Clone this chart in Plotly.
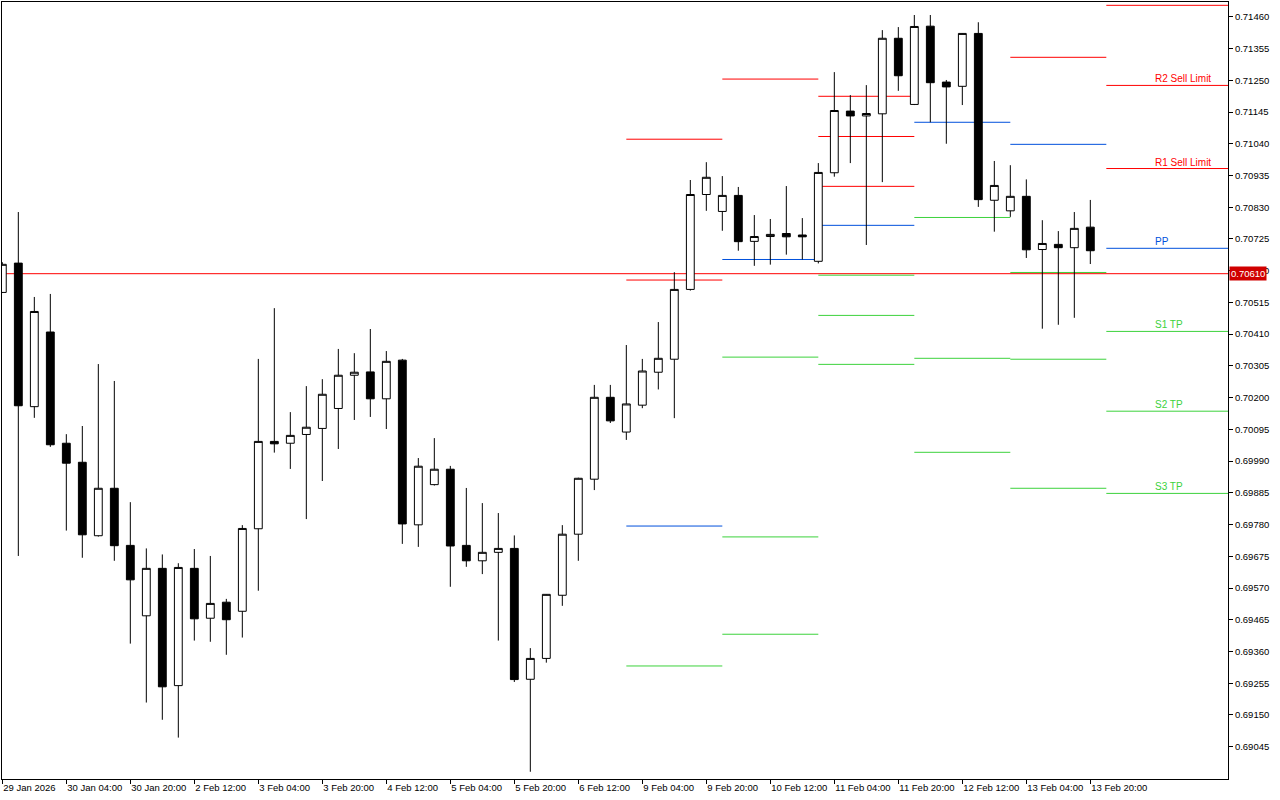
import numpy as np
import pandas as pd
import plotly.graph_objects as go

# ---------------- data (AUDUSD-like, H4 bars) ----------------
tick_labels = ["29 Jan 2026", "30 Jan 04:00", "30 Jan 20:00", "2 Feb 12:00", "3 Feb 04:00",
               "3 Feb 20:00", "4 Feb 12:00", "5 Feb 04:00", "5 Feb 20:00", "6 Feb 12:00",
               "9 Feb 04:00", "9 Feb 20:00", "10 Feb 12:00", "11 Feb 04:00", "11 Feb 20:00",
               "12 Feb 12:00", "13 Feb 04:00", "13 Feb 20:00"]

opens = [0.70548, 0.70645, 0.70170, 0.70417, 0.70049, 0.69986, 0.69743, 0.69900, 0.69711, 0.69478,
         0.69635, 0.69247, 0.69635, 0.69470, 0.69523, 0.69493, 0.69766, 0.70055, 0.70049, 0.70078,
         0.70098, 0.70164, 0.70274, 0.70285, 0.70196, 0.70324, 0.69779, 0.69912, 0.69963, 0.69711,
         0.69660, 0.69688, 0.69701, 0.69268, 0.69337, 0.69546, 0.69748, 0.69930, 0.70201, 0.70086,
         0.70175, 0.70284, 0.70327, 0.70558, 0.70872, 0.70816, 0.70869, 0.70717, 0.70733, 0.70743,
         0.70738, 0.70651, 0.70944, 0.71148, 0.71132, 0.71139, 0.71389, 0.71170, 0.71429, 0.71244,
         0.71230, 0.71405, 0.70853, 0.70818, 0.70866, 0.70690, 0.70707, 0.70696, 0.70764]
highs = [0.70648, 0.70814, 0.70533, 0.70543, 0.70079, 0.70106, 0.70311, 0.70255, 0.69854, 0.69701,
         0.69681, 0.69652, 0.69699, 0.69676, 0.69534, 0.69778, 0.70328, 0.70496, 0.70152, 0.70238,
         0.70261, 0.70361, 0.70347, 0.70427, 0.70354, 0.70328, 0.70000, 0.70066, 0.69974, 0.69901,
         0.69851, 0.69818, 0.69744, 0.69371, 0.69550, 0.69778, 0.69935, 0.70242, 0.70242, 0.70374,
         0.70328, 0.70450, 0.70615, 0.70920, 0.70979, 0.70933, 0.70897, 0.70804, 0.70791, 0.70900,
         0.70794, 0.70976, 0.71277, 0.71201, 0.71234, 0.71416, 0.71426, 0.71466, 0.71466, 0.71251,
         0.71406, 0.71442, 0.70983, 0.70969, 0.70922, 0.70787, 0.70751, 0.70814, 0.70854]
lows = [0.70546, 0.69676, 0.70133, 0.70037, 0.69760, 0.69670, 0.69740, 0.69660, 0.69386, 0.69191,
        0.69134, 0.69075, 0.69396, 0.69392, 0.69349, 0.69406, 0.69561, 0.70018, 0.69964, 0.69798,
        0.69924, 0.70030, 0.70126, 0.70136, 0.70096, 0.69716, 0.69706, 0.69909, 0.69574, 0.69640,
        0.69616, 0.69396, 0.69259, 0.68962, 0.69323, 0.69511, 0.69660, 0.69894, 0.70116, 0.70060,
        0.70165, 0.70227, 0.70132, 0.70554, 0.70818, 0.70752, 0.70686, 0.70636, 0.70640, 0.70673,
        0.70657, 0.70644, 0.70931, 0.70976, 0.70705, 0.70913, 0.71215, 0.71168, 0.71111, 0.71040,
        0.71168, 0.70831, 0.70749, 0.70798, 0.70662, 0.70428, 0.70441, 0.70464, 0.70642]
closes = [0.70641, 0.70173, 0.70485, 0.70044, 0.69983, 0.69746, 0.69900, 0.69710, 0.69597, 0.69635,
          0.69243, 0.69638, 0.69468, 0.69519, 0.69465, 0.69767, 0.70055, 0.70047, 0.70075, 0.70102,
          0.70211, 0.70274, 0.70284, 0.70196, 0.70320, 0.69782, 0.69973, 0.69963, 0.69709, 0.69660,
          0.69688, 0.69701, 0.69267, 0.69337, 0.69549, 0.69748, 0.69933, 0.70201, 0.70123, 0.70179,
          0.70288, 0.70330, 0.70558, 0.70872, 0.70929, 0.70869, 0.70716, 0.70733, 0.70740, 0.70732,
          0.70732, 0.70945, 0.71150, 0.71132, 0.71140, 0.71389, 0.71265, 0.71428, 0.71242, 0.71228,
          0.71405, 0.70855, 0.70902, 0.70866, 0.70689, 0.70710, 0.70696, 0.70760, 0.70686]

bid_price = 0.70610

# daily pivot levels (one entry per day; None = off-chart)
pivot_days = ["2026-02-09", "2026-02-10", "2026-02-11", "2026-02-12", "2026-02-13", "2026-02-16"]
r3 = [None, None, 0.71197, None, None, 0.71498]
r2 = [0.71055, None, 0.71064, None, None, 0.71233]
r1 = [0.70589, 0.71254, 0.70899, None, 0.71326, 0.70958]
pp = [0.69775, 0.70657, 0.70770, 0.71111, 0.71038, 0.70694]
s1 = [0.69312, 0.70334, 0.70605, 0.70796, 0.70614, 0.70419]
s2 = [None, 0.69739, 0.70472, 0.70330, 0.70327, 0.70155]
s3 = [None, 0.69417, 0.70310, 0.70019, 0.69900, 0.69883]
level_names = ["R3", "R2 Sell Limit", "R1 Sell Limit", "PP", "S1 TP", "S2 TP", "S3 TP"]

y_tick_values = [0.69045, 0.69150, 0.69255, 0.69360, 0.69465, 0.69570, 0.69675, 0.69780,
                 0.69885, 0.69990, 0.70095, 0.70200, 0.70305, 0.70410, 0.70515, 0.70620,
                 0.70725, 0.70830, 0.70935, 0.71040, 0.71145, 0.71250, 0.71355, 0.71460]
y_tick_labels = ["0.69045", "0.69150", "0.69255", "0.69360", "0.69465", "0.69570", "0.69675",
                 "0.69780", "0.69885", "0.69990", "0.70095", "0.70200", "0.70305", "0.70410",
                 "0.70515", "0.70620", "0.70725", "0.70830", "0.70935", "0.71040", "0.71145",
                 "0.71250", "0.71355", "0.71460"]

# ---------------- build ----------------
RED, BLUE, GREEN = "#ff0000", "#0050dc", "#3cd23c"
level_colors = [RED, RED, RED, BLUE, GREEN, GREEN, GREEN]
levels = [r3, r2, r1, pp, s1, s2, s3]

times = pd.date_range("2026-01-29 12:00", "2026-02-13 20:00", freq="4h")
times = times[times.dayofweek < 5]
n = len(times)
xi = np.arange(n)

x_min = -0.02
x_max = x_min + 1226 / 16.0
y_min, y_max = 0.68938, 0.71509

starts = [int(np.searchsorted(times, pd.Timestamp(d))) for d in pivot_days]
ends = starts[1:] + [x_max + 2]

FONT = "Liberation Sans, Arial, sans-serif"

fig = go.Figure()
fig.add_trace(go.Candlestick(
    x=xi, open=opens, high=highs, low=lows, close=closes,
    increasing=dict(line=dict(color="black", width=1), fillcolor="white"),
    decreasing=dict(line=dict(color="black", width=1), fillcolor="black"),
    hoverinfo="skip", showlegend=False,
))

shapes = []
shapes.append(dict(type="line", xref="paper", x0=0, x1=1, yref="y", y0=bid_price, y1=bid_price,
                   line=dict(color="#ff0000", width=1), layer="below"))
for d in range(len(pivot_days)):
    for lv, col in zip(levels, level_colors):
        v = lv[d]
        if v is None:
            continue
        shapes.append(dict(type="line", xref="x", yref="y", x0=starts[d], x1=ends[d], y0=v, y1=v,
                           line=dict(color=col, width=1), layer="below"))

annotations = []
last = len(pivot_days) - 1
for name, lv, col in zip(level_names, levels, level_colors):
    v = lv[last]
    if v is None or name == "R3":
        continue
    annotations.append(dict(x=starts[last] + 3, y=v, xref="x", yref="y", text=name,
                            showarrow=False, xanchor="left", yanchor="bottom", yshift=0,
                            font=dict(family=FONT, size=10, color=col), borderpad=0))
annotations.append(dict(x=1, y=bid_price, xref="paper", yref="y", text="0.70610", showarrow=False,
                        xanchor="left", yanchor="middle", xshift=1,
                        font=dict(family=FONT, size=9.5, color="white"),
                        bgcolor="#d00000", borderpad=1))

fig.update_layout(
    width=1280, height=800,
    margin=dict(l=2, r=52, t=2, b=21, autoexpand=False),
    paper_bgcolor="white", plot_bgcolor="white",
    shapes=shapes, annotations=annotations,
    font=dict(family=FONT, size=9.5, color="black"),
    showlegend=False,
)
fig.update_xaxes(
    range=[x_min, x_max], rangeslider=dict(visible=False), automargin=False,
    tickmode="array", tickvals=list(range(0, n, 4)), ticktext=tick_labels, tickangle=0,
    ticks="outside", ticklen=4, tickcolor="black", ticklabelposition="outside right",
    showgrid=False, zeroline=False, showline=True, linecolor="black", linewidth=1, mirror=True,
    tickfont=dict(family=FONT, size=9.5, color="black"),
)
fig.update_yaxes(
    range=[y_min, y_max], side="right", automargin=False,
    tickmode="array", tickvals=y_tick_values, ticktext=y_tick_labels,
    ticks="outside", ticklen=4, tickcolor="black",
    showgrid=False, zeroline=False, showline=True, linecolor="black", linewidth=1, mirror=True,
    tickfont=dict(family=FONT, size=9.5, color="black"),
)

fig.write_html("out.html", config={"displayModeBar": False},
               post_script="document.body.style.margin='0';document.body.style.overflow='hidden';")
